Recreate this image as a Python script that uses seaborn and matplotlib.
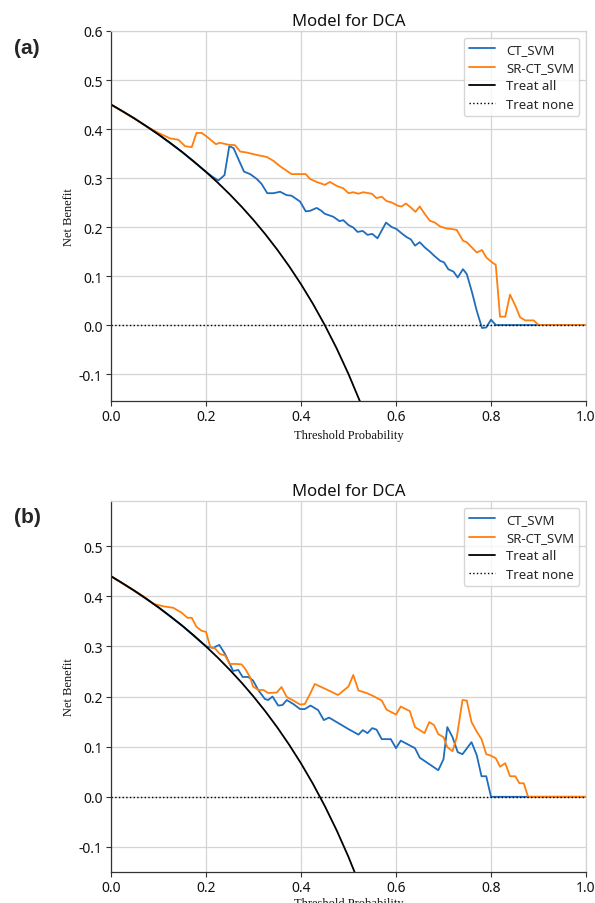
import matplotlib
matplotlib.use("Agg")
import matplotlib.pyplot as plt
from matplotlib.ticker import FormatStrFormatter
import seaborn as sns

# ---------------- panel (a) ----------------
thr_all_a = [0.0, 0.025, 0.05, 0.075, 0.1, 0.125, 0.15, 0.175, 0.2, 0.225, 0.25,
             0.275, 0.3, 0.325, 0.35, 0.375, 0.4, 0.425, 0.45, 0.475, 0.5, 0.525, 0.55]
nb_all_a = [0.45, 0.4359, 0.4211, 0.4054, 0.3889, 0.3714, 0.3529, 0.3333, 0.3125,
            0.2903, 0.2667, 0.2414, 0.2143, 0.1852, 0.1538, 0.12, 0.0833, 0.0435,
            0.0, -0.0476, -0.1, -0.1579, -0.2222]

thr_ct_a = [0.0, 0.05, 0.1, 0.15, 0.2, 0.213, 0.226, 0.239, 0.249, 0.258, 0.268,
            0.28, 0.293, 0.307, 0.317, 0.329, 0.342, 0.356, 0.37, 0.38, 0.398, 0.41,
            0.419, 0.433, 0.443, 0.45, 0.468, 0.481, 0.489, 0.5, 0.51, 0.519, 0.53,
            0.54, 0.55, 0.561, 0.579, 0.591, 0.601, 0.612, 0.623, 0.631, 0.64, 0.65,
            0.661, 0.671, 0.682, 0.693, 0.701, 0.71, 0.721, 0.73, 0.741, 0.749, 0.76,
            0.77, 0.781, 0.79, 0.8, 0.81, 1.0]
nb_ct_a = [0.45, 0.4211, 0.3889, 0.3529, 0.3125, 0.303, 0.295, 0.306, 0.365, 0.361,
           0.339, 0.313, 0.308, 0.298, 0.288, 0.269, 0.269, 0.272, 0.265, 0.264,
           0.252, 0.232, 0.233, 0.239, 0.233, 0.227, 0.221, 0.212, 0.214, 0.204,
           0.199, 0.19, 0.192, 0.184, 0.186, 0.177, 0.209, 0.2, 0.196, 0.187, 0.179,
           0.175, 0.162, 0.169, 0.158, 0.15, 0.14, 0.131, 0.128, 0.114, 0.109, 0.097,
           0.114, 0.104, 0.067, 0.029, -0.006, -0.005, 0.011, 0.0, 0.0]

thr_sr_a = [0.0, 0.05, 0.079, 0.1, 0.124, 0.142, 0.156, 0.17, 0.18, 0.191, 0.201,
            0.221, 0.229, 0.247, 0.261, 0.272, 0.286, 0.307, 0.328, 0.342, 0.356,
            0.38, 0.41, 0.419, 0.433, 0.45, 0.461, 0.475, 0.489, 0.5, 0.51, 0.521,
            0.531, 0.549, 0.559, 0.57, 0.58, 0.591, 0.605, 0.612, 0.621, 0.631,
            0.641, 0.65, 0.661, 0.671, 0.682, 0.693, 0.707, 0.717, 0.728, 0.741,
            0.749, 0.76, 0.77, 0.781, 0.79, 0.802, 0.81, 0.819, 0.83, 0.84, 0.851,
            0.861, 0.872, 0.89, 0.9, 1.0]
nb_sr_a = [0.45, 0.4211, 0.403, 0.392, 0.381, 0.378, 0.365, 0.363, 0.392, 0.392,
           0.385, 0.369, 0.372, 0.368, 0.367, 0.354, 0.352, 0.347, 0.343, 0.335,
           0.324, 0.308, 0.308, 0.298, 0.292, 0.286, 0.292, 0.284, 0.279, 0.269,
           0.271, 0.268, 0.271, 0.268, 0.259, 0.262, 0.253, 0.25, 0.243, 0.242,
           0.248, 0.24, 0.231, 0.242, 0.226, 0.213, 0.209, 0.201, 0.197, 0.196,
           0.194, 0.172, 0.169, 0.158, 0.148, 0.153, 0.138, 0.128, 0.123, 0.017,
           0.017, 0.062, 0.04, 0.016, 0.0095, 0.0095, 0.0, 0.0]

# ---------------- panel (b) ----------------
thr_all_b = [0.0, 0.025, 0.05, 0.075, 0.1, 0.125, 0.15, 0.175, 0.2, 0.225, 0.25,
             0.275, 0.3, 0.325, 0.35, 0.375, 0.4, 0.425, 0.45, 0.475, 0.5, 0.525]
nb_all_b = [0.44, 0.4256, 0.4105, 0.3946, 0.3778, 0.36, 0.3412, 0.3212, 0.30,
            0.2774, 0.2533, 0.2276, 0.20, 0.1704, 0.1385, 0.104, 0.0667, 0.0261,
            -0.0182, -0.0667, -0.12, -0.1789]

thr_ct_b = [0.0, 0.05, 0.1, 0.15, 0.2, 0.205, 0.215, 0.228, 0.24, 0.257, 0.268,
            0.277, 0.289, 0.299, 0.31, 0.324, 0.331, 0.34, 0.352, 0.361, 0.37,
            0.384, 0.398, 0.408, 0.42, 0.436, 0.448, 0.459, 0.5, 0.521, 0.53, 0.54,
            0.55, 0.559, 0.57, 0.589, 0.6, 0.61, 0.64, 0.65, 0.689, 0.7, 0.708,
            0.719, 0.73, 0.74, 0.759, 0.77, 0.78, 0.79, 0.8, 1.0]
nb_ct_b = [0.44, 0.4105, 0.3778, 0.3412, 0.30, 0.299, 0.297, 0.303, 0.285, 0.251,
           0.253, 0.239, 0.239, 0.232, 0.213, 0.195, 0.193, 0.2, 0.182, 0.183,
           0.193, 0.185, 0.175, 0.175, 0.182, 0.173, 0.153, 0.158, 0.135, 0.124,
           0.133, 0.127, 0.137, 0.134, 0.115, 0.115, 0.097, 0.112, 0.097, 0.078,
           0.053, 0.075, 0.139, 0.119, 0.089, 0.085, 0.109, 0.083, 0.041, 0.041,
           0.0, 0.0]

thr_sr_b = [0.0, 0.05, 0.068, 0.089, 0.11, 0.131, 0.149, 0.161, 0.17, 0.18, 0.191,
            0.2, 0.209, 0.219, 0.229, 0.24, 0.25, 0.264, 0.275, 0.282, 0.293,
            0.299, 0.31, 0.321, 0.331, 0.349, 0.359, 0.37, 0.384, 0.398, 0.408,
            0.419, 0.429, 0.454, 0.478, 0.5, 0.51, 0.521, 0.538, 0.552, 0.57, 0.58,
            0.6, 0.61, 0.629, 0.64, 0.66, 0.67, 0.68, 0.689, 0.7, 0.708, 0.719,
            0.728, 0.74, 0.749, 0.759, 0.77, 0.78, 0.79, 0.8, 0.81, 0.819, 0.83,
            0.84, 0.851, 0.86, 0.869, 0.878, 1.0]
nb_sr_b = [0.44, 0.4105, 0.40, 0.385, 0.38, 0.377, 0.367, 0.357, 0.357, 0.339,
           0.331, 0.329, 0.299, 0.296, 0.285, 0.282, 0.265, 0.265, 0.264, 0.256,
           0.238, 0.22, 0.213, 0.213, 0.207, 0.208, 0.219, 0.199, 0.192, 0.184,
           0.185, 0.205, 0.225, 0.214, 0.203, 0.22, 0.243, 0.212, 0.207, 0.201,
           0.192, 0.174, 0.164, 0.18, 0.171, 0.139, 0.127, 0.149, 0.143, 0.125,
           0.119, 0.099, 0.091, 0.119, 0.193, 0.192, 0.149, 0.13, 0.115, 0.085,
           0.082, 0.077, 0.06, 0.067, 0.041, 0.041, 0.027, 0.027, 0.0, 0.0]

thr_none = [0.0, 1.0]
nb_none = [0.0, 0.0]

series_labels = ["CT_SVM", "SR-CT_SVM", "Treat all", "Treat none"]
x_ticks = [0.0, 0.2, 0.4, 0.6, 0.8, 1.0]
y_ticks_a = [-0.1, 0.0, 0.1, 0.2, 0.3, 0.4, 0.5, 0.6]
y_ticks_b = [-0.1, 0.0, 0.1, 0.2, 0.3, 0.4, 0.5]

BLUE = "#1f6dbb"
ORANGE = "#ff7f0e"

sns.set_theme(style="whitegrid")
plt.rcParams["font.family"] = ["Noto Sans", "DejaVu Sans"]
plt.rcParams["axes.unicode_minus"] = False

fig = plt.figure(figsize=(5.95, 9.04), dpi=100)
ax_a = fig.add_axes([111 / 595, 1 - 402 / 904, 475 / 595, 370 / 904])
ax_b = fig.add_axes([111 / 595, 1 - 873 / 904, 475 / 595, 371 / 904])


def draw_dca(ax, ct, sr, treat_all, ylim, yticks, xlabelpad):
    sns.lineplot(x=ct[0], y=ct[1], ax=ax, color=BLUE, lw=1.3, sort=False,
                 estimator=None, label=series_labels[0])
    sns.lineplot(x=sr[0], y=sr[1], ax=ax, color=ORANGE, lw=1.3, sort=False,
                 estimator=None, label=series_labels[1])
    sns.lineplot(x=treat_all[0], y=treat_all[1], ax=ax, color="black", lw=1.3,
                 sort=False, estimator=None, label=series_labels[2])
    sns.lineplot(x=thr_none, y=nb_none, ax=ax, color="black", lw=1.0,
                 linestyle=":", sort=False, estimator=None, label=series_labels[3])

    ax.set_xlim(0, 1)
    ax.set_ylim(*ylim)
    ax.set_xticks(x_ticks)
    ax.set_yticks(yticks)
    ax.xaxis.set_major_formatter(FormatStrFormatter("%.1f"))
    ax.yaxis.set_major_formatter(FormatStrFormatter("%.1f"))
    ax.grid(True, color="#d4d4d4", lw=0.9)
    ax.tick_params(axis="both", which="major", labelsize=10, length=3.5,
                   width=0.8, color="#333333", bottom=True, left=True,
                   labelcolor="#111111", pad=2.5)

    for side in ("left", "bottom"):
        ax.spines[side].set_color("#333333")
        ax.spines[side].set_linewidth(0.9)
    for side in ("top", "right"):
        ax.spines[side].set_color("#d4d4d4")
        ax.spines[side].set_linewidth(0.9)

    ax.set_title("Model for DCA", fontsize=12, pad=4, color="#111111")
    ax.set_xlabel("Threshold Probability", family="Liberation Serif",
                  fontsize=9, labelpad=xlabelpad, color="#111111")
    ax.set_ylabel("Net Benefit", family="Liberation Serif", fontsize=9,
                  labelpad=3, color="#111111")

    ax.legend(loc="upper right", fontsize=9.5, frameon=True, fancybox=True,
              framealpha=0.8, edgecolor="#cccccc", borderpad=0.4,
              labelspacing=0.4, handlelength=2.0)


draw_dca(ax_a, (thr_ct_a, nb_ct_a), (thr_sr_a, nb_sr_a), (thr_all_a, nb_all_a),
         (-0.155, 0.6), y_ticks_a, 3)
draw_dca(ax_b, (thr_ct_b, nb_ct_b), (thr_sr_b, nb_sr_b), (thr_all_b, nb_all_b),
         (-0.15, 0.59), y_ticks_b, 1)

fig.text(27 / 595, 1 - 49 / 904, "(a)", ha="center", va="center", fontsize=15,
         fontweight="bold", family="Liberation Sans")
fig.text(27 / 595, 1 - 518 / 904, "(b)", ha="center", va="center", fontsize=15,
         fontweight="bold", family="Liberation Sans")

fig.savefig("out.png", dpi=100)
